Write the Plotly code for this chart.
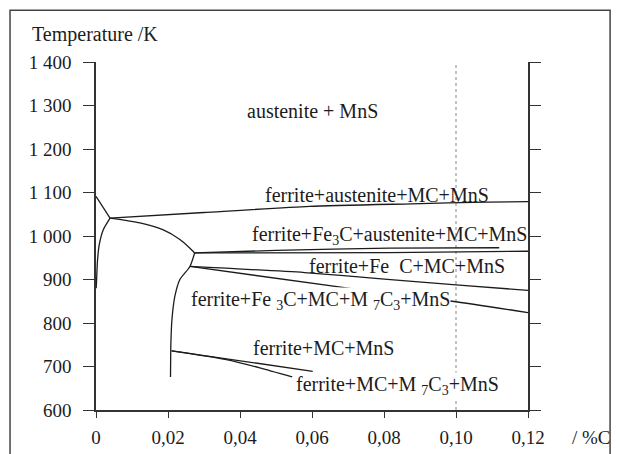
import plotly.graph_objects as go

# ---- data (wt% C, temperature K) ----
l1_x = [0.0, 0.0039]
l1_t = [1091, 1041]
l2_x = [0.0039, 0.0020, 0.0009, 0.0004, 0.00015, 0.00005]
l2_t = [1041, 1014, 980, 942, 896, 880]
l3_x = [0.0039, 0.0300, 0.0593, 0.0876, 0.1086, 0.1200]
l3_t = [1041, 1054, 1068, 1074, 1078, 1079]
l4_x = [0.0039, 0.0122, 0.0187, 0.0233, 0.0261, 0.0274]
l4_t = [1041, 1030, 1014, 992, 972, 961]
l5_x = [0.0274, 0.0261, 0.0233, 0.0219, 0.0211, 0.0208, 0.0207]
l5_t = [961, 930, 900, 861, 808, 754, 676]
l6_x = [0.0274, 0.0815, 0.1200]
l6_t = [961, 962, 965]
l7_x = [0.0274, 0.0500, 0.0815, 0.1120]
l7_t = [961, 967, 972, 973]
la_x = [0.0261, 0.0579, 0.0801, 0.1009, 0.1200]
la_t = [930, 916, 901, 887, 875]
lb_x = [0.0261, 0.0710, 0.0989, 0.1200]
lb_t = [930, 879, 850, 824]
lc1_x = [0.0210, 0.0602]
lc1_t = [736, 689]
lc2_x = [0.0210, 0.0362, 0.0455, 0.0545]
lc2_t = [736, 716, 697, 676]

lines = [(l1_x, l1_t), (l2_x, l2_t), (l3_x, l3_t), (l4_x, l4_t), (l5_x, l5_t),
         (l6_x, l6_t), (l7_x, l7_t), (la_x, la_t), (lb_x, lb_t),
         (lc1_x, lc1_t), (lc2_x, lc2_t)]

label_text = ["austenite + MnS",
              "ferrite+austenite+MC+MnS",
              "ferrite+Fe<sub>3</sub>C+austenite+MC+MnS",
              "ferrite+Fe  C+MC+MnS",
              "ferrite+Fe <sub>3</sub>C+MC+M <sub>7</sub>C<sub>3</sub>+MnS",
              "ferrite+MC+MnS",
              "ferrite+MC+M <sub>7</sub>C<sub>3</sub>+MnS"]
label_x = [0.0418, 0.0468, 0.0430, 0.0588, 0.0261, 0.0432, 0.0552]
label_t = [1288, 1094, 1001, 931, 851, 743, 656]
label_bg = [False, False, False, False, True, False, True]

x_ticks = [0, 0.02, 0.04, 0.06, 0.08, 0.10, 0.12]
x_ticktext = ["0", "0,02", "0,04", "0,06", "0,08", "0,10", "0,12"]
y_ticks = [600, 700, 800, 900, 1000, 1100, 1200, 1300, 1400]
y_ticktext = ["600", "700", "800", "900", "1 000", "1 100", "1 200", "1 300", "1 400"]
ref_x = 0.10

FONT = "Liberation Serif, Times New Roman, serif"
INK = "#1c1c1c"

fig = go.Figure()
for xs, ts in lines:
    fig.add_trace(go.Scatter(x=xs, y=ts, mode="lines",
                             line=dict(color=INK, width=1.3, shape="spline", smoothing=0.6),
                             hoverinfo="skip", showlegend=False))

fig.add_shape(type="line", xref="x", yref="y", x0=ref_x, x1=ref_x, y0=600, y1=1400,
              line=dict(color="#9a9a9a", width=1.2, dash="dot"), layer="below")

for txt, x, t, bg in zip(label_text, label_x, label_t, label_bg):
    fig.add_annotation(x=x, y=t, xref="x", yref="y", text=txt, showarrow=False,
                       xanchor="left", yanchor="middle",
                       font=dict(family=FONT, size=20, color=INK),
                       bgcolor="white" if bg else None, borderpad=0)

fig.add_annotation(x=-0.153, y=1.08, xref="paper", yref="paper", text="Temperature /K",
                   showarrow=False, xanchor="left", yanchor="middle",
                   font=dict(family=FONT, size=20, color=INK))
fig.add_annotation(x=1.097, y=-0.078, xref="paper", yref="paper", text="/ %C",
                   showarrow=False, xanchor="left", yanchor="middle",
                   font=dict(family=FONT, size=19, color=INK))

# outer frame
fig.add_shape(type="rect", xref="paper", yref="paper", x0=-0.199, x1=1.19, y0=-0.2, y1=1.149,
              line=dict(color="#444", width=1.5), fillcolor="rgba(0,0,0,0)")

fig.update_xaxes(range=[0, 0.12], tickvals=x_ticks, ticktext=x_ticktext,
                 showline=True, linecolor="#333", linewidth=1.5, mirror=False,
                 ticks="outside", ticklen=6, tickwidth=1.3, tickcolor="#333",
                 showgrid=False, zeroline=False, ticklabelstandoff=3, automargin=False,
                 tickfont=dict(family=FONT, size=19, color=INK))
fig.update_yaxes(range=[600, 1400], tickvals=y_ticks, ticktext=y_ticktext,
                 showline=True, linecolor="#333", linewidth=1.5, mirror="ticks",
                 ticks="outside", ticklen=11, tickwidth=1.3, tickcolor="#333",
                 showgrid=False, zeroline=False, ticklabelstandoff=8, automargin=False,
                 tickfont=dict(family=FONT, size=19, color=INK))

fig.update_layout(width=620, height=454, autosize=False,
                  margin=dict(l=96, r=92, t=62, b=44),
                  paper_bgcolor="white", plot_bgcolor="white",
                  showlegend=False)

fig.write_html("out.html")
